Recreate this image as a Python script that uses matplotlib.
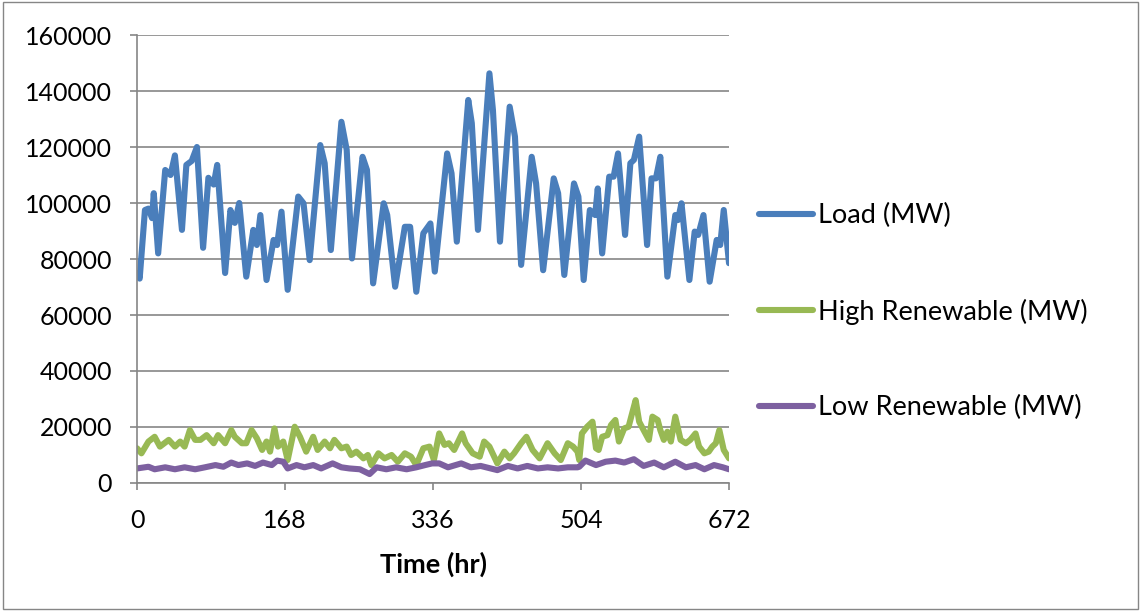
import matplotlib
matplotlib.use("Agg")
import matplotlib.pyplot as plt
from matplotlib.patches import Rectangle

# Values (hour, MW)
load_hours = [0, 3, 9, 13, 17, 19, 24, 32, 38, 43, 51, 56, 62, 68, 75, 81, 87, 91,
              100, 106, 111, 116, 124, 132, 136, 140, 147, 155, 159, 164, 171, 183,
              189, 196, 208, 213, 220, 232, 238, 244, 256, 261, 268, 280, 284, 293,
              304, 310, 317, 325, 333, 338, 352, 357, 363, 376, 380, 387, 400, 404,
              412, 423, 429, 436, 448, 453, 461, 473, 478, 485, 496, 501, 507, 514,
              520, 523, 528, 536, 541, 546, 554, 560, 564, 570, 579, 584, 589, 594,
              602, 611, 614, 618, 627, 633, 637, 643, 650, 658, 662, 666, 672]
load_mw = [75000, 73000, 97500, 98000, 94600, 103500, 82000, 111800, 110000, 117000,
           90400, 113600, 115000, 120000, 84000, 109000, 106600, 113600, 75000, 97500,
           92900, 100000, 73700, 90400, 85000, 95700, 72500, 86800, 85000, 96900,
           69000, 102300, 99900, 79600, 120700, 114200, 83200, 129000, 119000, 80200,
           116500, 111800, 71300, 99900, 95700, 70100, 91500, 91500, 68300, 89200,
           92700, 75500, 117700, 110600, 86200, 136800, 128500, 90400, 146300, 133200,
           86200, 134400, 123700, 77900, 116500, 107000, 76000, 108800, 103500, 74300,
           107000, 102300, 72500, 97500, 95700, 105200, 82000, 109400, 109400, 117700,
           88600, 114200, 115400, 123700, 85000, 108800, 108800, 116500, 73700, 95700,
           93900, 99900, 72500, 89800, 88600, 95700, 71900, 86800, 85000, 97500, 78500]

high_hours = [0, 5, 13, 20, 26, 36, 43, 49, 54, 60, 66, 72, 79, 87, 92, 100, 107, 111,
              119, 124, 130, 136, 142, 147, 151, 156, 160, 166, 171, 179, 185, 192,
              200, 205, 213, 219, 224, 232, 238, 243, 249, 257, 262, 266, 274, 281,
              289, 296, 304, 311, 317, 325, 332, 337, 343, 349, 354, 360, 369, 373,
              381, 389, 394, 400, 409, 417, 423, 428, 436, 442, 449, 457, 466, 474,
              481, 489, 495, 500, 502, 505, 511, 517, 521, 524, 528, 534, 538, 543,
              547, 553, 558, 562, 566, 570, 575, 581, 585, 591, 594, 598, 602, 606,
              611, 617, 623, 628, 634, 638, 644, 649, 653, 657, 661, 666, 672]
high_mw = [12400, 10600, 14800, 16500, 13000, 15400, 13000, 14800, 13000, 18900, 15400,
           15400, 17100, 14200, 17100, 14200, 18900, 16500, 14200, 14200, 18900, 16000,
           11800, 14800, 11200, 19500, 13000, 14800, 8200, 20100, 16500, 11200, 16500,
           11800, 14800, 12400, 15400, 12400, 13000, 10000, 11200, 8800, 10000, 6400,
           10600, 8800, 10000, 7600, 10600, 9400, 6400, 12400, 13000, 8200, 17700, 13600,
           14200, 11800, 17700, 14200, 10600, 9400, 14800, 13000, 7000, 11200, 8800,
           10600, 14200, 16500, 11800, 8800, 14200, 10600, 8200, 14200, 13000, 11200,
           8200, 17700, 20100, 21900, 12400, 11800, 16500, 17100, 20700, 22500, 14800,
           19500, 20100, 24900, 29600, 21900, 18900, 15400, 23700, 22500, 18900, 15400,
           18300, 14800, 23700, 15400, 14200, 15400, 17700, 13000, 10600, 11200, 13000,
           14200, 18900, 11800, 8800]

low_hours = [0, 13, 20, 32, 43, 54, 66, 77, 89, 98, 107, 115, 125, 134, 143, 153, 159,
             166, 171, 181, 190, 200, 209, 222, 232, 241, 253, 264, 272, 283, 294, 306,
             317, 327, 335, 343, 353, 368, 379, 390, 409, 421, 432, 443, 455, 466, 478,
             489, 500, 502, 509, 521, 532, 543, 553, 564, 575, 587, 598, 611, 623, 634,
             644, 655, 665, 672]
low_mw = [5200, 5800, 4900, 5600, 4900, 5600, 4900, 5600, 6400, 5800, 7300, 6400, 7000,
          6100, 7300, 6400, 8000, 7600, 5200, 6400, 5600, 6400, 5200, 7000, 5600, 5200,
          4900, 3200, 5600, 4900, 5600, 4900, 5600, 6400, 7000, 7000, 5600, 7000, 5600,
          6100, 4600, 6100, 5200, 6100, 5200, 5600, 5200, 5600, 5600, 5800, 8000, 6400,
          7600, 8000, 7300, 8500, 6100, 7300, 5600, 7600, 5600, 6400, 4900, 6400, 5600,
          4900]

x_ticks = [0, 168, 336, 504, 672]
y_ticks = [0, 20000, 40000, 60000, 80000, 100000, 120000, 140000, 160000]

plt.rcParams["font.family"] = ["Lato", "DejaVu Sans"]

fig = plt.figure(figsize=(11.4, 6.11), dpi=100)
ax = fig.add_axes([0.1202, 0.2095, 0.5193, 0.7332])

grid_col = "#868686"
line_kw = dict(linewidth=4.4, solid_joinstyle="round", solid_capstyle="round")
ax.plot(load_hours, load_mw, color="#4A7EBB", label="Load (MW)", **line_kw)
ax.plot(high_hours, high_mw, color="#98B954", label="High Renewable (MW)", **line_kw)
ax.plot(low_hours, low_mw, color="#7D60A0", label="Low Renewable (MW)", **line_kw)

ax.set_xlim(0, 672)
ax.set_ylim(0, 160000)
ax.set_xticks(x_ticks)
ax.set_yticks(y_ticks)
ax.set_yticklabels([str(v) for v in y_ticks])
ax.yaxis.grid(True, color=grid_col, linewidth=1.2)
ax.set_axisbelow(True)
for side in ["top", "right"]:
    ax.spines[side].set_visible(False)
for side in ["left", "bottom"]:
    ax.spines[side].set_color(grid_col)
    ax.spines[side].set_linewidth(1.2)
ax.tick_params(axis="y", length=5, width=1.2, color=grid_col, pad=13,
               labelsize=18)
ax.tick_params(axis="x", length=5, width=1.2, color=grid_col, pad=14,
               labelsize=18)
ax.set_xlabel("Time (hr)", fontsize=19.5, fontweight="bold", labelpad=14)

ax.legend(loc="upper left", bbox_to_anchor=(1.05, 0.625), frameon=False,
          fontsize=19.5, handlelength=2.0, handletextpad=0.2, labelspacing=2.6,
          borderpad=0, borderaxespad=0)

fig.patches.append(Rectangle((0.003, 0.003), 0.995, 0.994, transform=fig.transFigure,
                             fill=False, edgecolor=grid_col, linewidth=1))

fig.savefig("out.png", dpi=100)
